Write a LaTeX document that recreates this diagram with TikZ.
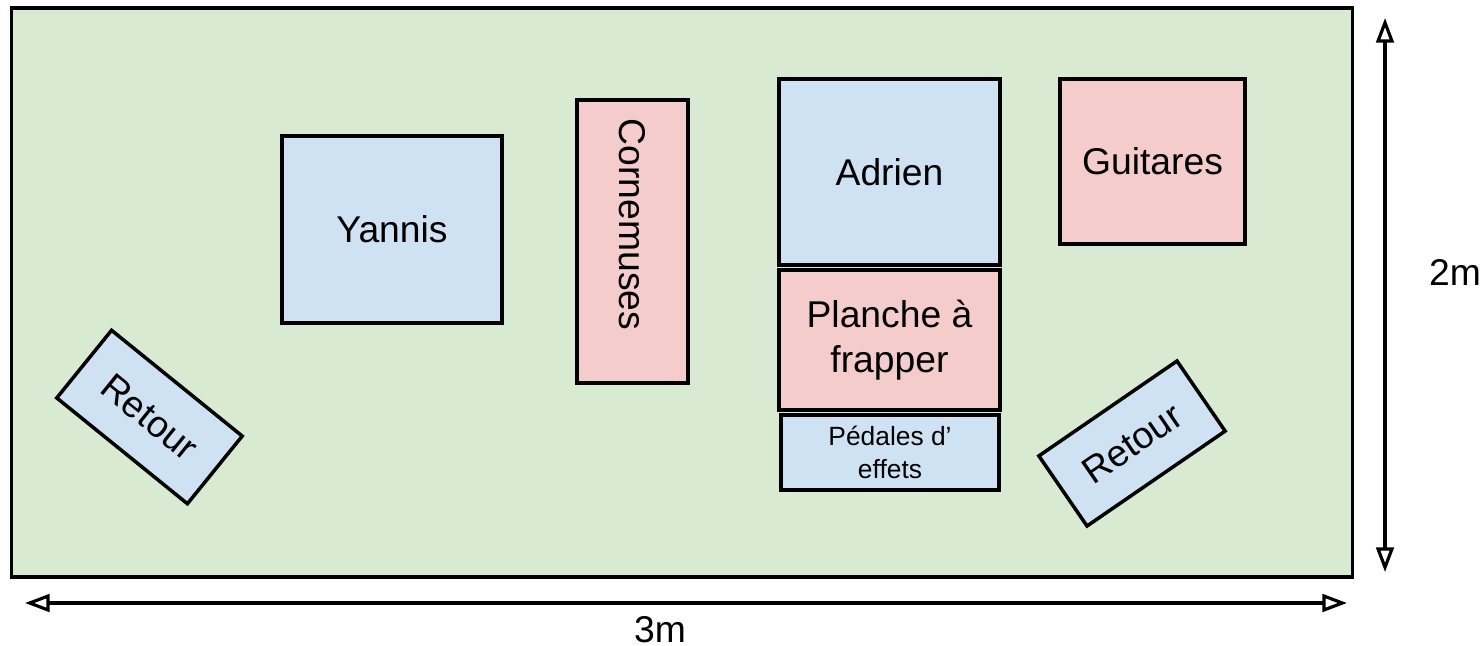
\documentclass[tikz,border=0pt]{standalone}
\usepackage{fontspec}
\setmainfont{Liberation Sans}
\usetikzlibrary{arrows.meta}
\definecolor{scenevert}{HTML}{D9EAD3}
\definecolor{bleuclair}{HTML}{CFE2F3}
\definecolor{roseclair}{HTML}{F4CCCC}
\begin{document}
\begin{tikzpicture}[x=0.01cm,y=-0.01cm,line width=1pt,
  boite/.style={draw, inner sep=0pt, align=center, font=\fontsize{10.6}{13}\selectfont},
  musicien/.style={boite, fill=bleuclair},
  instrument/.style={boite, fill=roseclair},
  cote/.style={{Triangle[open,length=7pt,width=5pt]}-{Triangle[open,length=7pt,width=5pt]}, line width=0.9pt}]
\useasboundingbox (0,0) rectangle (1482,645);

% la scene
\node[draw, fill=scenevert, inner sep=0pt, minimum width=13.4cm, minimum height=5.69cm] (scene) at (682,292.5) {};

% musiciens et instruments
\node[musicien, minimum width=2.2cm, minimum height=1.87cm] (yannis) at (392,229.5) {Yannis};
\node[instrument, minimum width=2.83cm, minimum height=1.11cm, rotate=-90] (cornemuses) at (632.5,241.5) {Cornemuses\hspace*{0.34cm}};
\node[musicien, minimum width=2.21cm, minimum height=1.86cm] (adrien) at (889.5,172) {Adrien};
\node[instrument, minimum width=1.85cm, minimum height=1.65cm] (guitares) at (1152.5,161.5) {Guitares};
\node[instrument, minimum width=2.21cm, minimum height=1.4cm] (planche) at (889.5,340) {Planche à\\frapper};
\node[musicien, minimum width=2.18cm, minimum height=0.75cm, font=\fontsize{7.5}{9.5}\selectfont] (pedales) at (890,452.5) {Pédales d’\\effets};

% retours
\node[musicien, minimum width=1.68cm, minimum height=0.87cm, rotate=-39] (retourG) at (149.5,417) {Retour};
\node[musicien, minimum width=1.675cm, minimum height=0.85cm, rotate=34.5] (retourD) at (1132,443.5) {Retour};

% cotes
\coordinate (hg) at (25,603);
\coordinate (hd) at (1347,603);
\coordinate (vh) at (1385,18);
\coordinate (vb) at (1385,572);
\draw[cote] (hg) -- (hd);
\draw[cote] (vh) -- (vb);
\node[inner sep=0pt, font=\fontsize{10.6}{13}\selectfont] (largeur) at (660,630) {3m};
\node[inner sep=0pt, font=\fontsize{10.6}{13}\selectfont] (profondeur) at (1455,272) {2m};
\end{tikzpicture}
\end{document}
